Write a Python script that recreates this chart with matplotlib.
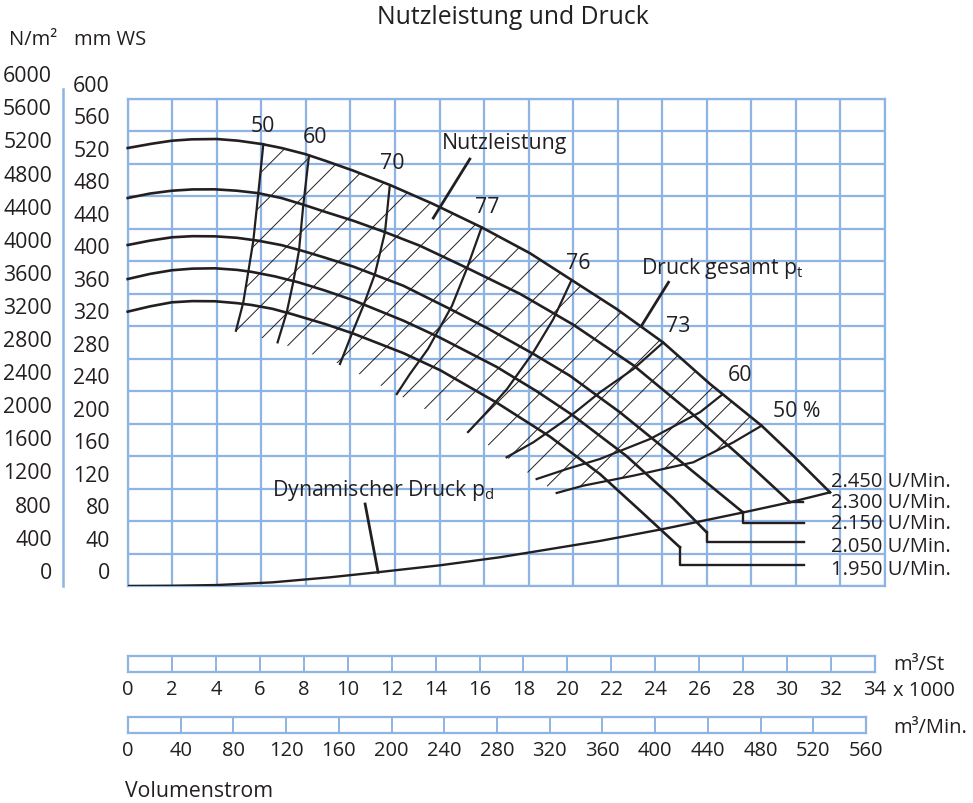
import numpy as np
import matplotlib
matplotlib.use("Agg")
import matplotlib.pyplot as plt
import matplotlib.transforms as mtransforms
from matplotlib.lines import Line2D

plt.rcParams['font.family'] = ['Open Sans', 'DejaVu Sans']
plt.rcParams['mathtext.fontset'] = 'custom'
plt.rcParams['mathtext.rm'] = 'Open Sans'
plt.rcParams['hatch.linewidth'] = 0.7

GRID_BLUE = '#8db4e2'
INK = '#231f20'
FS = 15.3      # Achsen und Beschriftungen
FS_SMALL = 14.5  # Drehzahlen und Volumenstrom-Skalen

# ── Kennlinien: Volumenstrom in 1000 m³/h, Druck gesamt in mm WS ──
Q_2450 = [0, 1.08, 1.98, 2.87, 4.00, 4.96, 6.02, 6.91, 7.96, 8.86, 10.13, 11.77, 13.72, 15.89,
          18.06, 19.93, 21.95, 24.04, 26.14, 28.46, 29.88, 31.53]
P_2450 = [539.6, 544.9, 548.6, 550.3, 550.7, 548.6, 544.5, 539.6, 532.2, 524.0, 511.7, 494.1, 470.6, 441.9,
          410.0, 377.0, 341.3, 300.0, 249.0, 197.5, 160.5, 115.4]

Q_2300 = [0, 1.0, 1.98, 2.9, 3.92, 4.9, 5.86, 6.9, 7.92, 8.86, 10.13, 11.55, 13.12, 15.22,
          17.61, 20.00, 22.70, 25.39, 27.49, 29.73]
P_2300 = [478.0, 483.5, 487.0, 488.6, 488.7, 487.0, 484.0, 478.0, 469.5, 461.0, 450.0, 436.0, 419.2, 392.0,
          360.0, 322.0, 272.0, 211.0, 160.2, 103.5]

Q_2150 = [0, 1.0, 1.98, 2.9, 3.92, 4.9, 5.86, 6.9, 7.96, 8.86, 10.13, 12.37, 14.47, 16.12,
          18.21, 19.85, 22.10, 24.80, 27.63]
P_2150 = [420.1, 425.5, 429.6, 431.0, 430.8, 429.0, 425.4, 420.0, 412.0, 404.5, 393.5, 370.0, 341.3, 318.0,
          286.0, 259.1, 214.0, 154.0, 90.6]

Q_2050 = [0, 1.0, 1.98, 2.9, 3.92, 4.9, 5.57, 6.6, 7.66, 8.86, 10.13, 12.37, 14.02, 16.56,
          18.36, 20.00, 22.40, 24.49, 25.99]
P_2050 = [378.2, 384.5, 389.0, 391.0, 391.4, 389.5, 387.0, 381.5, 374.2, 364.0, 352.0, 327.0, 306.0, 270.0,
          240.0, 210.0, 160.0, 108.0, 66.2]

Q_1950 = [0, 1.0, 1.98, 2.9, 3.92, 4.9, 5.57, 6.5, 7.36, 8.86, 10.13, 12.37, 14.02, 16.56,
          18.96, 21.20, 23.00, 24.79]
P_1950 = [338.0, 344.5, 349.5, 351.0, 350.8, 348.5, 346.2, 341.5, 335.1, 322.8, 311.0, 287.0, 266.0, 226.0,
          184.0, 138.0, 93.0, 47.7]

# dynamischer Druck
Q_DYN = [0, 2, 4, 6.5, 9.08, 11.24, 14.02, 16.71, 21.2, 24.04, 27.63, 29.73, 31.53]
P_DYN = [0, 0.3, 1.2, 4.5, 10.7, 17.0, 25.5, 35.4, 55.5, 70.2, 90.6, 103.1, 115.4]

# Wirkungsgradlinien (Q, p), von der 2.450er Kennlinie abwärts
ETA_LABELS = ['50', '60', '70', '77', '76', '73', '60', '50 %']
ETA_Q = [
    [6.09, 5.86, 5.64, 5.41, 5.19, 4.86],
    [8.14, 7.88, 7.69, 7.43, 7.14, 6.73],
    [11.77, 11.55, 11.10, 10.58, 10.06, 9.53],
    [15.89, 15.22, 14.56, 13.48, 12.67, 12.08],
    [19.93, 19.11, 18.21, 17.03, 16.04, 15.28],
    [24.04, 22.70, 21.20, 19.71, 18.21, 17.01],
    [26.70, 25.69, 23.45, 21.20, 19.71, 18.36],
    [28.46, 27.19, 25.39, 22.70, 20.45, 19.26],
]
ETA_P = [
    [544.5, 482.9, 425.4, 386.5, 349.5, 314.5],
    [530.5, 468.5, 413.1, 374.2, 337.2, 300.2],
    [494.0, 435.8, 384.4, 345.3, 310.5, 273.5],
    [441.9, 390.5, 345.3, 292.0, 261.2, 236.5],
    [377.0, 328.9, 287.9, 242.7, 211.9, 189.7],
    [300.0, 267.3, 238.6, 205.7, 177.0, 158.6],
    [236.0, 214.0, 181.1, 156.5, 144.1, 131.8],
    [197.5, 177.0, 152.4, 135.9, 123.6, 114.6],
]
ETA_LABEL_POS = [(6.09, 567), (8.41, 554), (11.87, 522), (16.13, 467),
                 (20.21, 399), (24.70, 321), (27.49, 260), (30.05, 216)]

RPM_LABELS = ['2.450 U/Min.', '2.300 U/Min.', '2.150 U/Min.', '2.050 U/Min.', '1.950 U/Min.']
RPM_LABEL_P = [129.7, 103.9, 77.6, 49.7, 20.9]
# Hinweislinien am Kurvenende zu den Drehzahlangaben
RPM_LEAD_Q = [[31.53], [29.73, 30.31], [27.63, 27.63, 30.36], [25.99, 25.99, 30.36], [24.79, 24.79, 30.36]]
RPM_LEAD_P = [[115.4], [103.1, 103.1], [90.6, 77.6, 77.6], [66.2, 53.8, 53.8], [47.7, 26.2, 26.2]]

PA_TICKS = np.arange(0, 6001, 400)
MM_TICKS = np.arange(0, 601, 40)
QH_TICKS = np.arange(0, 35, 2)
QM_TICKS = np.arange(0, 561, 40)

W, H = 973, 804
fig = plt.figure(figsize=(W / 100, H / 100), dpi=100)


def fx(px):
    return px / W


def fy(py):
    return 1 - py / H


ax = fig.add_axes([fx(127.7), fy(587), fx(885) - fx(127.7), fy(100) - fy(587)])
ax.set_xlim(0, 34)
ax.set_ylim(0, 600)
ax.set_xticks(QH_TICKS)
ax.set_yticks(MM_TICKS)
ax.grid(True, color=GRID_BLUE, lw=1.6)
ax.set_axisbelow(True)
ax.tick_params(length=0, labelbottom=False, labelleft=False)
for s in ax.spines.values():
    s.set_color(GRID_BLUE)
    s.set_linewidth(1.6)

# Schraffur der Nutzleistung
top = [(q, p) for q, p in zip(Q_2450, P_2450) if ETA_Q[0][0] < q < ETA_Q[-1][0]]
right = list(zip(ETA_Q[-1], ETA_P[-1]))
bottom = [(q[-1], p[-1]) for q, p in zip(ETA_Q[1:-1], ETA_P[1:-1])][::-1]
left = list(zip(ETA_Q[0], ETA_P[0]))[::-1]
poly = np.array(left[-1:] + top + right + bottom + left[:-1])
ax.fill(poly[:, 0], poly[:, 1], fc='none', ec=INK, lw=0, hatch='/', zorder=2)

for q, p in [(Q_2450, P_2450), (Q_2300, P_2300), (Q_2150, P_2150), (Q_2050, P_2050), (Q_1950, P_1950)]:
    ax.plot(q, p, color=INK, lw=1.9, solid_joinstyle='round', zorder=4, clip_on=False)
ax.plot(Q_DYN, P_DYN, color=INK, lw=1.7, solid_joinstyle='round', zorder=4)

for q, p in zip(ETA_Q, ETA_P):
    ax.plot(q, p, color=INK, lw=1.6, solid_joinstyle='round', zorder=3)
for lab, (q, p) in zip(ETA_LABELS, ETA_LABEL_POS):
    ax.text(q, p, lab, fontsize=FS, color=INK, ha='center', va='center')

for q, p in zip(RPM_LEAD_Q, RPM_LEAD_P):
    ax.plot(q, p, color=INK, lw=1.7, zorder=4, clip_on=False)
for lab, p in zip(RPM_LABELS, RPM_LABEL_P):
    ax.text(31.56, p, lab, fontsize=FS_SMALL, color=INK, ha='left', va='center', clip_on=False)

# Beschriftungen mit Hinweislinien
ax.text(16.94, 547, 'Nutzleistung', fontsize=FS, color=INK, ha='center', va='center')
ax.plot([15.36, 13.72], [526, 453.4], color=INK, lw=2.0, zorder=5)
ax.text(23.06, 393, r'Druck gesamt p$_\mathregular{t}$', fontsize=FS, color=INK, ha='left', va='center')
ax.plot([24.28, 23.07], [374.2, 320.7], color=INK, lw=2.0, zorder=5)
ax.text(6.48, 119.5, r'Dynamischer Druck p$_\mathregular{d}$', fontsize=FS, color=INK, ha='left', va='center')
ax.plot([10.66, 11.24], [101.0, 17.0], color=INK, lw=2.0, zorder=5)

# Druckachsen links
lift = mtransforms.ScaledTranslation(0, 13.5 / 100, fig.dpi_scale_trans)
mm_tr = mtransforms.blended_transform_factory(fig.transFigure, ax.transData) + lift
for v in MM_TICKS:
    fig.text(fx(110), v, f'{v}', transform=mm_tr, fontsize=FS, color=INK, ha='right', va='center')
for v in PA_TICKS:
    py = 573.3 - v / PA_TICKS[-1] * (573.3 - 76.7)
    fig.text(fx(52), fy(py), f'{v}', fontsize=FS, color=INK, ha='right', va='center')
fig.add_artist(Line2D([fx(63), fx(63)], [fy(587), fy(90)], color=GRID_BLUE, lw=1.8))

fig.text(fx(9), fy(40), 'N/m²', fontsize=FS_SMALL, color=INK, ha='left', va='center')
fig.text(fx(74), fy(40), 'mm WS', fontsize=FS_SMALL, color=INK, ha='left', va='center')
fig.text(fx(513), fy(18), 'Nutzleistung und Druck', fontsize=17.8, color=INK, ha='center', va='center')


# Volumenstrom-Skalen
def scale_bar(x0, x1, y0, y1, xmax, ticks):
    bx = fig.add_axes([fx(x0), fy(y1), fx(x1) - fx(x0), fy(y0) - fy(y1)])
    bx.set_xlim(0, xmax)
    bx.set_ylim(0, 1)
    bx.set_xticks(ticks)
    bx.set_xticklabels([f'{t}' for t in ticks])
    bx.set_yticks([])
    bx.grid(axis='x', color=GRID_BLUE, lw=1.4)
    bx.tick_params(length=0, pad=5, labelsize=FS_SMALL, labelcolor=INK)
    for s in bx.spines.values():
        s.set_color(GRID_BLUE)
        s.set_linewidth(1.6)
    return bx


scale_bar(128, 875, 657.3, 673.3, 34, QH_TICKS)
scale_bar(128, 866, 718.3, 734.3, 560, QM_TICKS)
fig.text(fx(893), fy(665), 'm³/St', fontsize=FS_SMALL, color=INK, ha='left', va='center')
fig.text(fx(893), fy(691), 'x 1000', fontsize=FS_SMALL, color=INK, ha='left', va='center')
fig.text(fx(893), fy(728), 'm³/Min.', fontsize=FS_SMALL, color=INK, ha='left', va='center')
fig.text(fx(125), fy(792), 'Volumenstrom', fontsize=FS, color=INK, ha='left', va='center')

fig.savefig('out.png', dpi=100)
